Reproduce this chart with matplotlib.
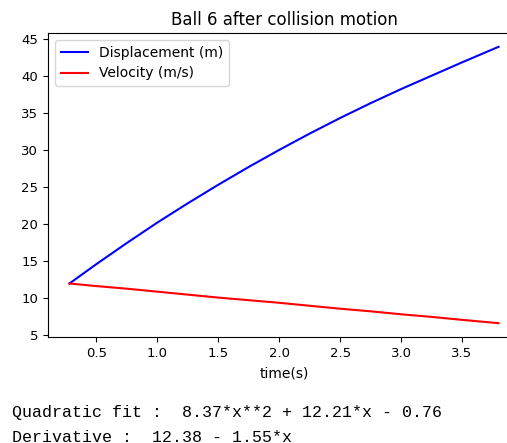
import matplotlib
matplotlib.use("Agg")
import matplotlib.pyplot as plt

# values
time_s = [0.28, 0.5, 0.75, 1.0, 1.25, 1.5, 1.75, 2.0, 2.25, 2.5,
          2.75, 3.0, 3.25, 3.5, 3.8]
displacement = [12.0, 14.6, 17.45, 20.2, 22.8, 25.3, 27.7, 30.0, 32.2, 34.3,
                36.3, 38.2, 40.0, 41.8, 43.9]
velocity = [12.0, 11.65, 11.3, 10.9, 10.5, 10.1, 9.75, 9.4, 9.0, 8.6,
            8.25, 7.85, 7.5, 7.1, 6.65]

title = "Ball 6 after collision motion"
xlabel = "time(s)"
fit_lines = ["Quadratic fit :  8.37*x**2 + 12.21*x - 0.76",
             "Derivative :  12.38 - 1.55*x"]

W, H = 507, 443
fig = plt.figure(figsize=(W / 100, H / 100), dpi=100)

# the reference is cropped on the right, so the axes run past the figure edge
left, right, top, bottom = 48, 520, 33, 337
ax = fig.add_axes([left / W, 1 - bottom / H, (right - left) / W, (bottom - top) / H])

ax.plot(time_s, displacement, color="b", lw=1.5, label="Displacement (m)")
ax.plot(time_s, velocity, color="r", lw=1.5, label="Velocity (m/s)")

ax.set_title(title, fontsize=12)
ax.set_xlabel(xlabel, fontsize=10, labelpad=5)
ax.tick_params(labelsize=9.5)
ax.legend(loc="upper left", fontsize=10)

y0 = 413
for i, line in enumerate(fit_lines):
    fig.text(12 / W, 1 - (y0 + 24 * i) / H, line, family="Liberation Mono",
             fontsize=12, va="center", ha="left")

fig.savefig("out.png", dpi=100)
